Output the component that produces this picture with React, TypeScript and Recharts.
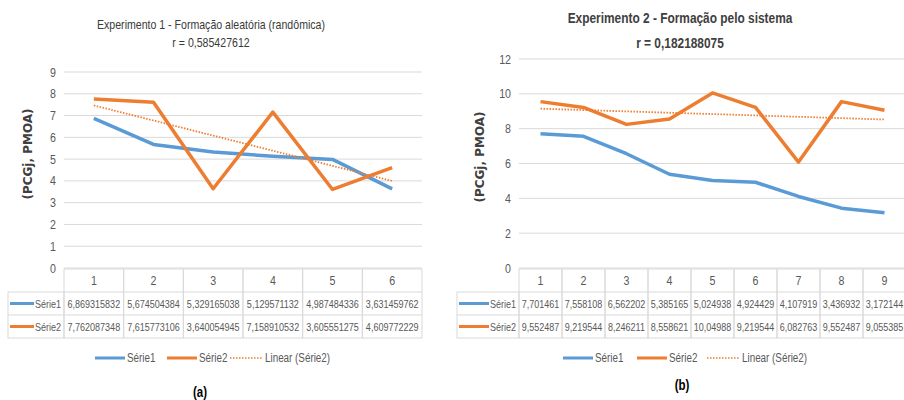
import { LineChart, Line, XAxis, YAxis, CartesianGrid } from "recharts";

const FONT = "'Liberation Sans', Arial, sans-serif";
const SQ = 0.82; // horizontal squeeze, stands in for a narrow face
const BLUE = "#5b9bd5";
const ORANGE = "#ed7d31";
const GRID = "#d9d9d9";
const TXT = "#595959";

// Experimento 1
const catsA = [1, 2, 3, 4, 5, 6];
const serie1A = [6.869315832, 5.674504384, 5.329165038, 5.129571132, 4.987484336, 3.631459762];
const serie2A = [7.762087348, 7.615773106, 3.640054945, 7.158910532, 3.605551275, 4.609772229];
const yTicksA = [0, 1, 2, 3, 4, 5, 6, 7, 8, 9];

// Experimento 2
const catsB = [1, 2, 3, 4, 5, 6, 7, 8, 9];
const serie1B = [7.701461, 7.558108, 6.562202, 5.385165, 5.024938, 4.924429, 4.107919, 3.436932, 3.172144];
const serie2B = [9.552487, 9.219544, 8.246211, 8.558621, 10.04988, 9.219544, 6.082763, 9.552487, 9.055385];
const yTicksB = [0, 2, 4, 6, 8, 10, 12];

// least squares trend line, like Excel's "Linear (Série2)"
function linearTrend(vals: number[]) {
  const n = vals.length;
  const xm = (n + 1) / 2;
  const ym = vals.reduce((a, b) => a + b, 0) / n;
  let sxy = 0;
  let sxx = 0;
  vals.forEach((v, i) => {
    sxy += (i + 1 - xm) * (v - ym);
    sxx += (i + 1 - xm) * (i + 1 - xm);
  });
  const slope = sxy / sxx;
  return vals.map((_, i) => ym + slope * (i + 1 - xm));
}

const fmt = (v: number) => String(v).replace(".", ",");

function NText({ x, y, size = 11, anchor = "middle", fill = TXT, children }: any) {
  return (
    <text
      transform={`translate(${x},${y}) scale(${SQ},1)`}
      textAnchor={anchor}
      fontFamily={FONT}
      fontSize={size}
      fill={fill}
    >
      {children}
    </text>
  );
}

type Props = {
  left: number;
  width: number;
  plotLeft: number;
  plotRight: number;
  plotTop: number;
  keyW: number;
  cats: number[];
  s1: number[];
  s2: number[];
  yTicks: number[];
  title: string;
  rText: string;
  titleStyle: any;
  titleY: number;
  rY: number;
  centerX: number;
  yLabelX: number;
  yLabelY: number;
  legendX: number;
  legendY: number;
  legendGaps: number[];
  caption: string;
  captionX: number;
  captionY: number;
};

function ExcelChart(p: Props) {
  const n = p.cats.length;
  const bw = (p.plotRight - p.plotLeft) / n;
  const trend = linearTrend(p.s2);
  const data = p.cats.map((c, i) => ({ cat: c, s1: p.s1[i], s2: p.s2[i], trend: trend[i] }));
  const yW = 30;
  const rh = 23;
  const [g2, g3] = p.legendGaps;

  const renderTick = (props: any) => {
    const { x, y, payload } = props;
    const i = props.index ?? payload.index;
    const x0 = x - bw / 2;
    const y0 = y + 1;
    return (
      <g>
        <rect x={x0} y={y0} width={bw} height={rh * 3} fill="none" stroke={GRID} />
        <line x1={x0} x2={x0 + bw} y1={y0 + rh} y2={y0 + rh} stroke={GRID} />
        <line x1={x0} x2={x0 + bw} y1={y0 + rh * 2} y2={y0 + rh * 2} stroke={GRID} />
        <NText x={x} y={y0 + rh / 2 + 4.5} size={13}>
          {payload.value}
        </NText>
        <NText x={x} y={y0 + rh * 1.5 + 4}>{fmt(p.s1[i])}</NText>
        <NText x={x} y={y0 + rh * 2.5 + 4}>{fmt(p.s2[i])}</NText>
        {i === 0 && (
          <g>
            <rect x={x0 - p.keyW} y={y0 + rh} width={p.keyW} height={rh * 2} fill="none" stroke={GRID} />
            <line x1={x0 - p.keyW} x2={x0} y1={y0 + rh * 2} y2={y0 + rh * 2} stroke={GRID} />
            <line x1={x0 - p.keyW + 2} x2={x0 - 30} y1={y0 + rh * 1.5} y2={y0 + rh * 1.5} stroke={BLUE} strokeWidth={3} />
            <line x1={x0 - p.keyW + 2} x2={x0 - 30} y1={y0 + rh * 2.5} y2={y0 + rh * 2.5} stroke={ORANGE} strokeWidth={3} />
            <NText x={x0 - 3} y={y0 + rh * 1.5 + 4} anchor="end">
              Série1
            </NText>
            <NText x={x0 - 3} y={y0 + rh * 2.5 + 4} anchor="end">
              Série2
            </NText>
          </g>
        )}
      </g>
    );
  };

  const renderYTick = (props: any) => (
    <NText x={props.x} y={props.y + 4.5} size={13} anchor="end">
      {props.payload.value}
    </NText>
  );

  const abs = (x: number, y: number, extra: any = {}) => ({
    position: "absolute" as const,
    left: x - p.left,
    top: y,
    transform: `translate(-50%, -50%) scaleX(${SQ})`,
    whiteSpace: "nowrap" as const,
    lineHeight: 1,
    fontFamily: FONT,
    ...extra,
  });

  const legendText = { fontFamily: FONT, fontSize: 12, color: TXT, display: "inline-block", transform: `scaleX(${SQ})`, transformOrigin: "0 50%" };

  return (
    <div style={{ position: "absolute", left: p.left, top: 0, width: p.width, height: 400 }}>
      <LineChart
        width={p.width}
        height={400}
        data={data}
        margin={{ top: p.plotTop, right: p.left + p.width - p.plotRight, bottom: 60, left: p.plotLeft - p.left - yW }}
      >
        <CartesianGrid vertical={false} stroke={GRID} />
        <XAxis
          dataKey="cat"
          interval={0}
          height={72}
          tickSize={0}
          tickMargin={0}
          axisLine={false}
          tickLine={false}
          padding={{ left: bw / 2, right: bw / 2 }}
          tick={renderTick}
        />
        <YAxis
          width={yW}
          domain={[0, p.yTicks[p.yTicks.length - 1]]}
          ticks={p.yTicks}
          interval={0}
          axisLine={false}
          tickLine={false}
          tick={renderYTick}
        />
        <Line dataKey="s1" stroke={BLUE} strokeWidth={3.5} strokeLinejoin="round" dot={false} isAnimationActive={false} />
        <Line dataKey="s2" stroke={ORANGE} strokeWidth={3.5} strokeLinejoin="round" dot={false} isAnimationActive={false} />
        <Line dataKey="trend" stroke={ORANGE} strokeWidth={1.8} strokeDasharray="1.5 1.5" dot={false} isAnimationActive={false} />
      </LineChart>

      <div style={abs(p.centerX, p.titleY, p.titleStyle)}>{p.title}</div>
      <div style={abs(p.centerX, p.rY, p.titleStyle)}>{p.rText}</div>
      <div
        style={abs(p.yLabelX, p.yLabelY, {
          transform: "translate(-50%, -50%) rotate(-90deg)",
          fontFamily: "'DejaVu Sans', sans-serif",
          fontWeight: "bold",
          fontSize: 12,
          color: "#404040",
        })}
      >
        (PCGj, PMOA)
      </div>
      <div style={{ position: "absolute", left: p.legendX - p.left, top: p.legendY - 8, height: 16, width: 300 }}>
        <svg width={300} height={16} style={{ position: "absolute", left: 0, top: 0 }}>
          <line x1={0} x2={30} y1={8} y2={8} stroke={BLUE} strokeWidth={3} />
          <line x1={g2} x2={g2 + 30} y1={8} y2={8} stroke={ORANGE} strokeWidth={3} />
          <line x1={g3} x2={g3 + 32} y1={8} y2={8} stroke={ORANGE} strokeWidth={1.5} strokeDasharray="1.5 1.5" />
        </svg>
        <span style={{ ...legendText, position: "absolute", left: 32, top: 1 }}>Série1</span>
        <span style={{ ...legendText, position: "absolute", left: g2 + 32, top: 1 }}>Série2</span>
        <span style={{ ...legendText, position: "absolute", left: g3 + 35, top: 1 }}>Linear (Série2)</span>
      </div>
      <div style={abs(p.captionX, p.captionY, { fontWeight: "bold", fontSize: 14, color: "#000" })}>{p.caption}</div>
    </div>
  );
}

export default function App() {
  return (
    <div style={{ position: "fixed", left: 0, top: 0, width: 904, height: 400, overflow: "hidden", background: "#fff" }}>
      <ExcelChart
        left={0}
        width={450}
        plotLeft={64}
        plotRight={422}
        plotTop={72}
        keyW={56}
        cats={catsA}
        s1={serie1A}
        s2={serie2A}
        yTicks={yTicksA}
        title="Experimento 1 - Formação aleatória (randômica)"
        rText="r = 0,585427612"
        titleStyle={{ fontSize: 12.9, color: "#3a3a3a" }}
        titleY={25}
        rY={43}
        centerX={211}
        yLabelX={28}
        yLabelY={154}
        legendX={95}
        legendY={358}
        legendGaps={[72, 135]}
        caption="(a)"
        captionX={200}
        captionY={392}
      />
      <ExcelChart
        left={450}
        width={470}
        plotLeft={519}
        plotRight={906}
        plotTop={59}
        keyW={62}
        cats={catsB}
        s1={serie1B}
        s2={serie2B}
        yTicks={yTicksB}
        title="Experimento 2 - Formação pelo sistema"
        rText="r = 0,182188075"
        titleStyle={{ fontSize: 14.5, fontWeight: "bold", color: "#404040" }}
        titleY={18}
        rY={43}
        centerX={680}
        yLabelX={480}
        yLabelY={157}
        legendX={563}
        legendY={358}
        legendGaps={[74, 144]}
        caption="(b)"
        captionX={682}
        captionY={385}
      />
    </div>
  );
}
